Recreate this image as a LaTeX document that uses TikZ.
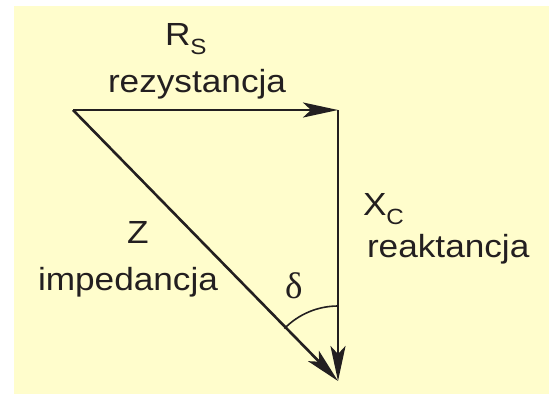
\documentclass[tikz,border=0pt]{standalone}
\usepackage{fontspec}
\setmainfont{Liberation Sans}[FakeStretch=1.1]
\newfontfamily\greekfont{Liberation Serif}
\usetikzlibrary{arrows.meta}
\definecolor{bgyellow}{RGB}{255,253,204}
\definecolor{ink}{RGB}{35,31,32}
\tikzset{
  lbl/.style={anchor=base west, inner sep=0pt, outer sep=0pt, text=ink, font=\fontsize{32}{34}\selectfont},
  vec/.style={draw=ink, line width=2.6pt, -{Stealth[length=35pt,width=15pt,inset=8pt]}},
  anglearc/.style={draw=ink, line width=1.6pt}
}
\newcommand{\sbs}[1]{\raisebox{-9pt}{\fontsize{22}{23}\selectfont #1}}
\begin{document}
\begin{tikzpicture}[x=1pt,y=-1pt]
\useasboundingbox (0,0) rectangle (549,394);
\fill[bgyellow] (14,6) rectangle (549,394);
\coordinate (a) at (73,110);
\coordinate (b) at (338,110);
\coordinate (c) at (338,381);
\draw[vec] (a) -- (b);
\draw[vec] (b) -- (c);
\draw[vec] (a) -- (c);
\draw[anglearc] ([yshift=75pt]c.center) arc[start angle=90, end angle=135.6, radius=75pt];
\node[lbl] (rs) at (165,45) {R\sbs{S}};
\node[lbl] (rez) at (108,92) {rezystancja};
\node[lbl] (xc) at (363,215) {X\sbs{C}};
\node[lbl] (reak) at (367,257) {reaktancja};
\node[lbl] (z) at (127,243) {Z};
\node[lbl] (imp) at (38,290) {impedancja};
\node[lbl, font=\greekfont\fontsize{37}{38}\selectfont] (delta) at (285,298) {δ};
\end{tikzpicture}
\end{document}
